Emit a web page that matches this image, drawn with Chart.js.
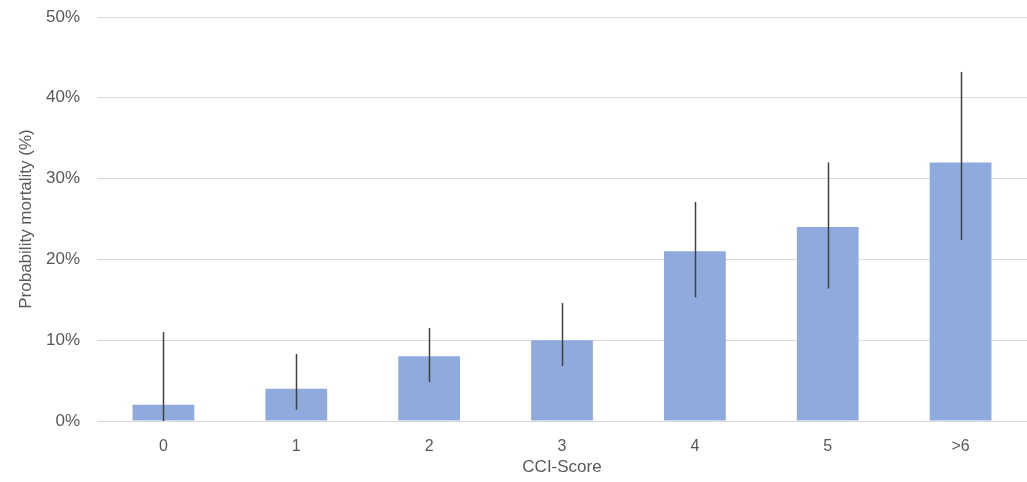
<!DOCTYPE html>
<html>
<head>
<meta charset="utf-8">
<script src="https://cdn.jsdelivr.net/npm/chart.js@4"></script>
<style>
  html, body { margin: 0; padding: 0; background: #fff; }
  #wrap { width: 1027px; height: 482px; }
</style>
</head>
<body>
<div id="wrap"><canvas id="c" width="1027" height="482"></canvas></div>
<script>
// CCI score groups and predicted mortality (%), with confidence limits
const categories = ['0', '1', '2', '3', '4', '5', '>6'];
const mortality  = [2, 4, 8, 10, 21, 24, 32];
const ciLower    = [0, 1.4, 4.8, 6.8, 15.3, 16.4, 22.4];
const ciUpper    = [11, 8.3, 11.5, 14.6, 27.1, 32, 43.2];
const yTicks     = [0, 10, 20, 30, 40, 50];

const textColor = '#595959';
const fontFamily = '"Liberation Sans", Arial, sans-serif';

// Vertical confidence-interval lines drawn over each bar
const errorBars = {
  id: 'errorBars',
  afterDatasetsDraw(chart) {
    const ctx = chart.ctx;
    const meta = chart.getDatasetMeta(0);
    const y = chart.scales.y;
    ctx.save();
    ctx.strokeStyle = '#404040';
    ctx.lineWidth = 1.5;
    meta.data.forEach((bar, i) => {
      const x = Math.round(bar.x) + 0.5;
      ctx.beginPath();
      ctx.moveTo(x, y.getPixelForValue(ciLower[i]));
      ctx.lineTo(x, y.getPixelForValue(ciUpper[i]));
      ctx.stroke();
    });
    ctx.restore();
  }
};

new Chart(document.getElementById('c'), {
  type: 'bar',
  data: {
    labels: categories,
    datasets: [{
      data: mortality,
      backgroundColor: '#8FAADC',
      borderWidth: 0,
      barPercentage: 0.93,
      categoryPercentage: 0.5
    }]
  },
  options: {
    responsive: false,
    animation: false,
    layout: { padding: { top: 17, right: 0, left: 0, bottom: 0 } },
    plugins: { legend: { display: false }, tooltip: { enabled: false } },
    scales: {
      x: {
        grid: { display: false, drawTicks: false },
        border: { display: false },
        ticks: { color: textColor, font: { family: fontFamily, size: 16 }, padding: 16 },
        title: {
          display: true, text: 'CCI-Score', color: textColor,
          font: { family: fontFamily, size: 17 }, padding: { top: 4, bottom: 4 }
        },
        afterFit(scale) { scale.height = 61; }
      },
      y: {
        min: 0, max: 50,
        afterBuildTicks(scale) { scale.ticks = yTicks.map(v => ({ value: v })); },
        grid: { color: '#D9D9D9', lineWidth: 1, drawTicks: false },
        border: { display: false },
        ticks: {
          color: textColor, font: { family: fontFamily, size: 17 }, padding: 17,
          callback: v => v + '%'
        },
        title: {
          display: true, text: 'Probability mortality (%)', color: textColor,
          font: { family: fontFamily, size: 17 }, padding: { top: 16, bottom: 0 }
        },
        afterFit(scale) {
          scale.width = 97;
          scale.paddingTop = 0;
          scale.paddingBottom = 0;
        }
      }
    }
  },
  plugins: [errorBars]
});
</script>
</body>
</html>
